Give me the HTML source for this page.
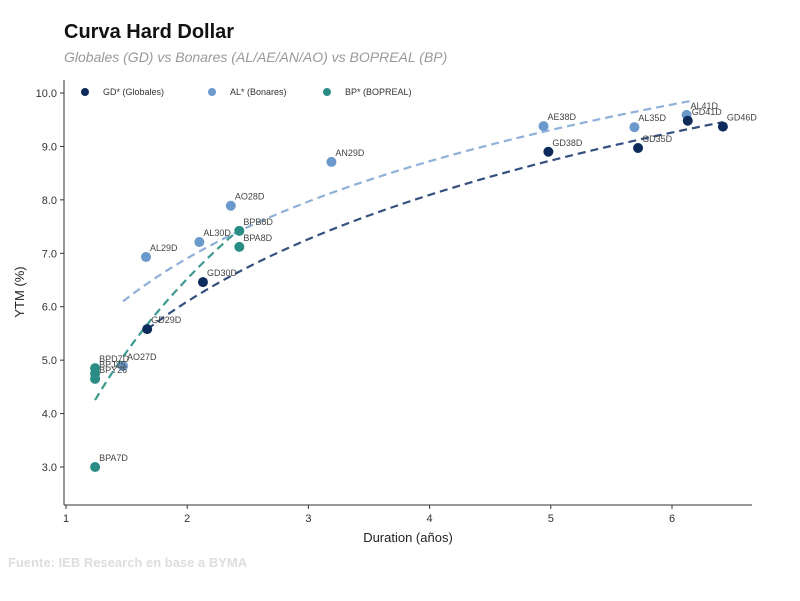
<!DOCTYPE html>
<html><head><meta charset="utf-8"><style>
body{margin:0;background:#fff;width:800px;height:601px;overflow:hidden;font-family:"Liberation Sans",sans-serif}
</style></head><body>
<svg id="c" width="800" height="601" style="position:absolute;left:0;top:0">
<text x="64" y="38" font-size="20" font-weight="bold" fill="#111">Curva Hard Dollar</text>
<text x="64" y="62" font-size="14" font-style="italic" fill="#999">Globales (GD) vs Bonares (AL/AE/AN/AO) vs BOPREAL (BP)</text>
<line x1="64" y1="80" x2="64" y2="505" stroke="#333"/>
<line x1="64" y1="505" x2="752" y2="505" stroke="#333"/>
<text x="408" y="542" font-size="13" text-anchor="middle" fill="#222">Duration (años)</text>
<text transform="translate(24,292) rotate(-90)" font-size="13" text-anchor="middle" fill="#222">YTM (%)</text>
<text x="8" y="567" font-size="13" font-weight="bold" fill="#ddd">Fuente: IEB Research en base a BYMA</text>
<g id="ticks"></g><g id="lines"></g><g id="pts"></g>
<g font-size="9" fill="#333">
<circle cx="85" cy="92" r="4" fill="#0d2b5a"/><text x="103" y="95">GD* (Globales)</text>
<circle cx="212" cy="92" r="4" fill="#6b99cb"/><text x="230" y="95">AL* (Bonares)</text>
<circle cx="327" cy="92" r="4" fill="#2a8c84"/><text x="345" y="95">BP* (BOPREAL)</text>
</g>
</svg>
<script>
const xTicks=[1,2,3,4,5,6];
const yTicks=[3,4,5,6,7,8,9,10];
const gdNames=["GD29D","GD30D","GD38D","GD35D","GD41D","GD46D"];
const gdX=[1.67,2.13,4.98,5.72,6.13,6.42];
const gdY=[5.58,6.46,8.9,8.97,9.48,9.37];
const alNames=["AO27D","AL29D","AL30D","AO28D","AN29D","AE38D","AL35D","AL41D"];
const alX=[1.47,1.66,2.1,2.36,3.19,4.94,5.69,6.12];
const alY=[4.89,6.93,7.21,7.89,8.71,9.38,9.36,9.59];
const bpNames=["BPA7D","BPY26","BPJ25","BPD7D","BPB8D","BPA8D"];
const bpX=[1.24,1.24,1.24,1.24,2.43,2.43];
const bpY=[3.0,4.65,4.75,4.85,7.42,7.12];
const fitGD=[4.10,2.88,1.67,6.42];
const fitAL=[5.09,2.62,1.47,6.15];
const fitBP=[3.23,4.75,1.24,2.43];
const sx=v=>66+(v-1)*121.2, sy=v=>467-(v-3)*53.43;
const NS="http://www.w3.org/2000/svg";
function mk(t,a,p){const e=document.createElementNS(NS,t);for(const k in a)e.setAttribute(k,a[k]);document.getElementById(p).appendChild(e);return e;}
xTicks.forEach(t=>{const l=mk('line',{x1:sx(t),x2:sx(t),y1:505,y2:509,stroke:'#333'},'ticks');


const s=mk('text',{x:sx(t),y:522,'font-size':11,'text-anchor':'middle',fill:'#333'},'ticks');s.textContent=t;

});
yTicks.forEach(t=>{const l=mk('line',{x1:60,x2:64,y1:sy(t),y2:sy(t),stroke:'#333'},'ticks');


const s=mk('text',{x:57,y:sy(t)+4,'font-size':11,'text-anchor':'end',fill:'#333'},'ticks');s.textContent=t.toFixed(1);

});
function fit(f,col,name){let d='';for(let i=0;i<=60;i++){const x=f[2]+(f[3]-f[2])*i/60;const y=f[0]+f[1]*Math.log(x);d+=(i?'L':'M')+sx(x)+','+sy(y);}
const p=mk('path',{d:d,fill:'none',stroke:col,'stroke-width':2.2,'stroke-dasharray':'8,5'},'lines');

}
fit(fitAL,'#8fb0d8','trend-bonares');fit(fitGD,'#34507e','trend-globales');fit(fitBP,'#3d9a90','trend-bopreal');
function pts(n,X,Y,col,name){X.forEach((x,i)=>{const c=mk('circle',{cx:sx(x),cy:sy(Y[i]),r:5,fill:col},'pts');


const t=mk('text',{x:sx(x)+4,y:sy(Y[i])-6,'font-size':9,fill:'#444'},'pts');t.textContent=n[i];

});}
pts(alNames,alX,alY,'#6b99cb','bonares');pts(gdNames,gdX,gdY,'#0d2b5a','globales');pts(bpNames,bpX,bpY,'#2a8c84','bopreal');
</script>
</body></html>
